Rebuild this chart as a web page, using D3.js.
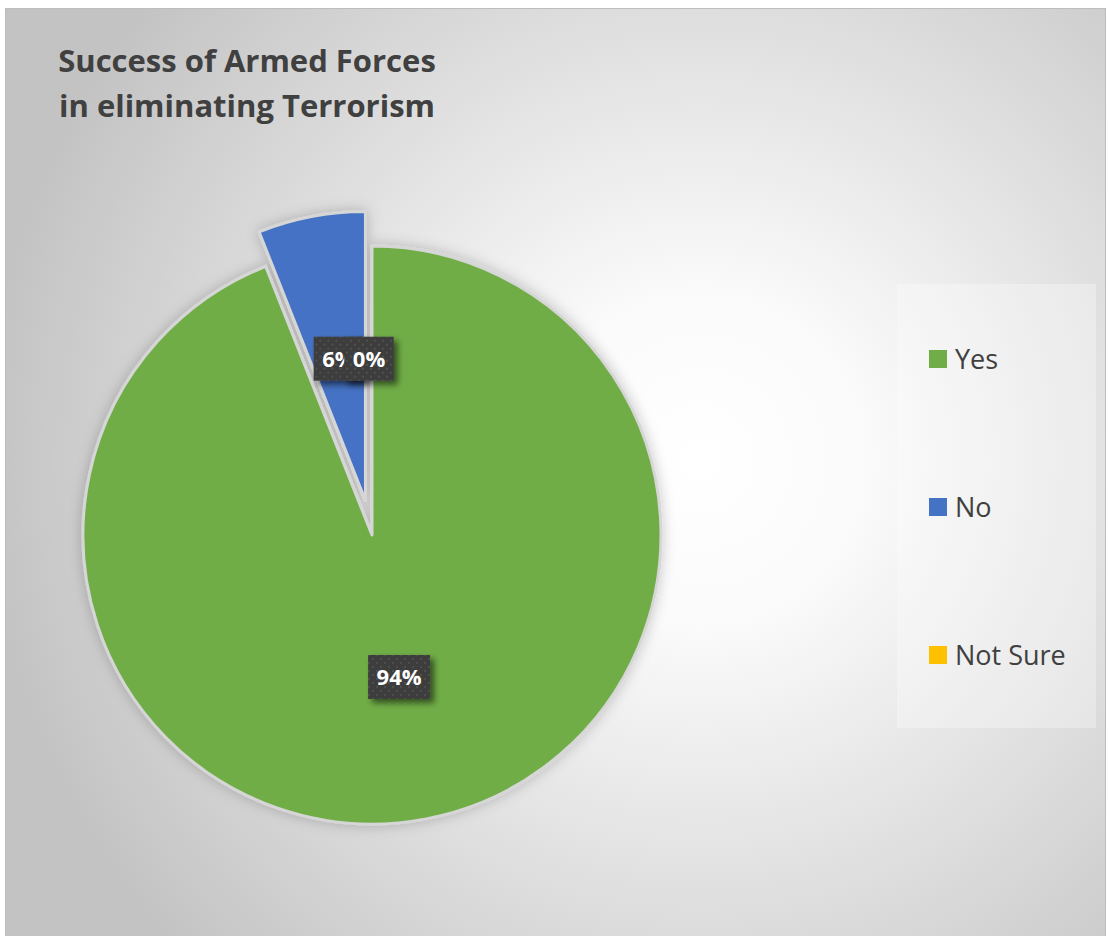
<!DOCTYPE html>
<html>
<head>
<meta charset="utf-8">
<script src="https://cdn.jsdelivr.net/npm/d3@7/dist/d3.min.js"></script>
<style>
  html, body { margin: 0; padding: 0; background: #ffffff; }
  svg { display: block; }
</style>
</head>
<body>
<svg id="chart" width="1108" height="936"></svg>
<script>
// Survey answers and their shares (%)
const categories = ["Yes", "No", "Not Sure"];
const values = [94, 6, 0];
const colors = ["#70AD47", "#4472C4", "#FFC000"];
// how far each slice is pulled out of the pie (px)
const explodeBy = [0, 35, 0];
const titleLines = ["Success of Armed Forces", "in eliminating Terrorism"];

const svg = d3.select("#chart");

const defs = svg.append("defs");

// chart area background: soft radial shading
const bg = defs.append("radialGradient")
  .attr("id", "bgGrad")
  .attr("gradientUnits", "userSpaceOnUse")
  .attr("cx", 700).attr("cy", 460).attr("r", 720);
bg.append("stop").attr("offset", 0).attr("stop-color", "#ffffff");
bg.append("stop").attr("offset", 0.22).attr("stop-color", "#fbfbfb");
bg.append("stop").attr("offset", 1).attr("stop-color", "#c3c3c3");

// soft halo round the pie
const pieShadow = defs.append("filter").attr("id", "pieShadow")
  .attr("x", "-20%").attr("y", "-20%").attr("width", "140%").attr("height", "140%");
pieShadow.append("feDropShadow")
  .attr("dx", 0).attr("dy", 0).attr("stdDeviation", 7)
  .attr("flood-color", "#000").attr("flood-opacity", 0.22);

// shadow under the data labels
const lblShadow = defs.append("filter").attr("id", "lblShadow")
  .attr("x", "-30%").attr("y", "-30%").attr("width", "170%").attr("height", "170%");
lblShadow.append("feDropShadow")
  .attr("dx", 4).attr("dy", 4).attr("stdDeviation", 3)
  .attr("flood-color", "#000").attr("flood-opacity", 0.55);

// dotted texture of the label boxes
const dots = defs.append("pattern").attr("id", "dots")
  .attr("patternUnits", "userSpaceOnUse").attr("width", 8).attr("height", 8);
dots.append("rect").attr("width", 8).attr("height", 8).attr("fill", "#3d3d3d");
dots.append("circle").attr("cx", 2).attr("cy", 2).attr("r", 1).attr("fill", "#555555");
dots.append("circle").attr("cx", 6).attr("cy", 6).attr("r", 1).attr("fill", "#555555");

// chart area
svg.append("rect")
  .attr("x", 5.5).attr("y", 8.5).attr("width", 1100).attr("height", 930)
  .attr("fill", "url(#bgGrad)")
  .attr("stroke", "#bdbdbd").attr("stroke-width", 1);

// title
svg.append("text")
  .attr("x", 247).attr("y", 72)
  .attr("text-anchor", "middle")
  .attr("font-family", "'Open Sans', sans-serif")
  .attr("font-weight", 700)
  .attr("font-size", 31)
  .attr("fill", "#404040")
  .selectAll("tspan")
  .data(titleLines)
  .join("tspan")
  .attr("x", 247)
  .attr("dy", (d, i) => i === 0 ? 0 : 45)
  .text(d => d);

// pie
const cx = 372, cy = 535, R = 289;
const pie = d3.pie().sort(null).value(d => d.value);
const data = categories.map((c, i) => ({ name: c, value: values[i], color: colors[i], explode: explodeBy[i] }));
const arcs = pie(data);
const arc = d3.arc().innerRadius(0).outerRadius(R);

function offsetOf(a) {
  const mid = (a.startAngle + a.endAngle) / 2;
  return [Math.sin(mid) * a.data.explode, -Math.cos(mid) * a.data.explode];
}

const pieG = svg.append("g")
  .attr("transform", `translate(${cx},${cy})`)
  .attr("filter", "url(#pieShadow)");

pieG.selectAll("path")
  .data(arcs.filter(a => a.value > 0))
  .join("path")
  .attr("transform", a => `translate(${offsetOf(a)})`)
  .attr("d", arc)
  .attr("fill", a => a.data.color)
  .attr("stroke", "#d6d6d6")
  .attr("stroke-width", 3)
  .attr("stroke-linejoin", "round");

// data labels: dark boxes at about half the radius
const labelG = svg.append("g").attr("transform", `translate(${cx},${cy})`);
const fmt = d3.format(".0%");
const total = d3.sum(values);

arcs.forEach(a => {
  const mid = (a.startAngle + a.endAngle) / 2;
  // an empty slice has no area of its own, so its label is moved outward
  // and nudged left next to its neighbour's label
  const rr = a.value > 0 ? R * 0.5 : R * 0.61;
  const [ox, oy] = offsetOf(a);
  const x = ox + Math.sin(mid) * rr - (a.value > 0 ? 0 : 3);
  const y = oy - Math.cos(mid) * rr;

  const g = labelG.append("g").attr("transform", `translate(${x},${y})`);
  const box = g.append("rect").attr("filter", "url(#lblShadow)").attr("fill", "url(#dots)");
  const t = g.append("text")
    .attr("text-anchor", "middle")
    .attr("dy", "0.36em")
    .attr("font-family", "'Open Sans', sans-serif")
    .attr("font-weight", 700)
    .attr("font-size", 22)
    .attr("fill", "#ffffff")
    .text(fmt(a.value / total));
  const w = t.node().getComputedTextLength() + 17;
  const h = 44;
  box.attr("x", -w / 2).attr("y", -h / 2).attr("width", w).attr("height", h);
});

// legend
svg.append("rect")
  .attr("x", 897).attr("y", 284).attr("width", 199).attr("height", 444)
  .attr("fill", "#ffffff").attr("opacity", 0.3);

const legendY = d3.scalePoint().domain(categories).range([359, 655]);
const leg = svg.append("g").selectAll("g")
  .data(data)
  .join("g")
  .attr("transform", d => `translate(929,${legendY(d.name)})`);
leg.append("rect")
  .attr("x", 0).attr("y", -9).attr("width", 18).attr("height", 18)
  .attr("fill", d => d.color);
leg.append("text")
  .attr("x", 26).attr("dy", "0.36em")
  .attr("font-family", "'Open Sans', sans-serif")
  .attr("font-size", 27)
  .attr("fill", "#404040")
  .text(d => d.name);
</script>
</body>
</html>
